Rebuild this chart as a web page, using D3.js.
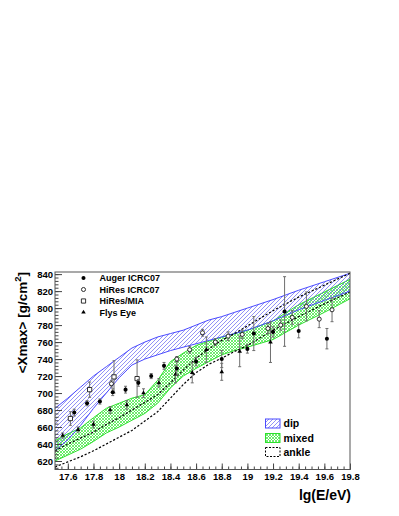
<!DOCTYPE html>
<html>
<head>
<meta charset="utf-8">
<script src="https://cdn.jsdelivr.net/npm/d3@7"></script>
<style>
  body { margin: 0; background: #fff; }
  text { font-family: "Liberation Sans", Arial, sans-serif; font-weight: bold; }
</style>
</head>
<body>
<div id="chart"></div>
<script>
// model bands, sampled in lg(E/eV)
const bandE = [17.5, 17.6, 17.7, 17.8, 17.9, 18.0, 18.1, 18.2, 18.3, 18.4, 18.5, 18.6, 18.7, 18.8, 18.9, 19.0, 19.2, 19.4, 19.6, 19.8];
const dipUpper = [682, 694, 707, 720, 731, 742, 753, 760, 766, 770, 774, 780, 786, 790, 795, 800, 810, 821, 831, 841];
const dipLower = [632, 645, 662, 682, 700, 718, 733, 740, 745, 750, 754, 758, 762, 766, 770, 774, 785, 798, 809, 820];
const mixedUpper = [644, 652, 659, 671, 682, 688, 694, 698, 715, 737, 747, 756, 761, 766, 770, 774, 785, 804, 819, 834];
const mixedLower = [620, 627, 634, 643, 653, 660, 668, 676, 688, 706, 720, 729, 737, 745, 750, 754, 763, 780, 795, 811];
const ankleUpper = [632, 640, 647, 654, 663, 671, 680, 689, 698, 712, 727, 741, 752, 762, 770, 779, 797, 813, 827, 841];
const ankleLower = [613, 619, 625, 632, 640, 648, 656, 667, 678, 694, 710, 724, 734, 741, 749, 756, 774, 790, 805, 819];

// measurements: energy, <Xmax>, error
const augerE = [17.65, 17.75, 17.85, 17.95, 18.05, 18.15, 18.25, 18.35, 18.45, 18.6, 18.8, 19.0, 19.05, 19.2, 19.29, 19.4, 19.62];
const augerX = [677, 688, 690, 701, 704, 712, 720, 732, 729, 737, 740, 752, 770, 772, 796, 773, 764];
const augerErr = [4, 3, 3, 4, 4, 4, 3, 4, 8, 5, 10, 5, 20, 6, 41, 8, 12];

const hiresE = [17.94, 18.45, 18.55, 18.65, 18.75, 18.85, 18.96, 19.16, 19.26, 19.35, 19.46, 19.56, 19.66];
const hiresX = [711, 740, 751, 771, 760, 767, 769, 776, 780, 789, 802, 787, 798];
const hiresErr = [4, 3, 4, 4, 4, 5, 5, 6, 6, 8, 17, 10, 14];

const miaE = [17.62, 17.77, 17.96, 18.14];
const miaX = [670, 704, 719, 717];
const miaErr = [8, 9, 19, 22];

const flysE = [17.56, 17.68, 17.8, 17.93, 18.06, 18.19, 18.31, 18.44, 18.57, 18.68, 18.8, 18.94, 19.18];
const flysX = [650, 657, 663, 680, 686, 700, 712, 722, 724, 751, 725, 749, 760];
const flysErr = [3, 3, 4, 4, 5, 5, 5, 10, 12, 15, 10, 18, 24];

const yTicks = [620, 640, 660, 680, 700, 720, 740, 760, 780, 800, 820, 840];
const xTicks = [17.6, 17.8, 18, 18.2, 18.4, 18.6, 18.8, 19, 19.2, 19.4, 19.6, 19.8];

const frame = { left: 55, top: 272, right: 350, bottom: 469.5 };
const width = frame.right - frame.left;
const height = frame.bottom - frame.top;

const svg = d3.select("#chart").append("svg")
    .attr("width", 399)
    .attr("height", 516);

const defs = svg.append("defs");

// hatch for dip band
const dipPat = defs.append("pattern")
    .attr("id", "dipHatch")
    .attr("patternUnits", "userSpaceOnUse")
    .attr("width", 4).attr("height", 4);
dipPat.append("path")
    .attr("d", "M-1,1 l2,-2 M0,4 l4,-4 M3,5 l2,-2")
    .attr("stroke", "#6464f0")
    .attr("stroke-width", 0.7);

// cross hatch for mixed band
const mixPat = defs.append("pattern")
    .attr("id", "mixHatch")
    .attr("patternUnits", "userSpaceOnUse")
    .attr("width", 3).attr("height", 3);
mixPat.append("path")
    .attr("d", "M-1,1 l2,-2 M0,3 l3,-3 M2,4 l2,-2 M-1,2 l2,2 M0,0 l3,3 M2,-1 l2,2")
    .attr("stroke", "#33e633")
    .attr("stroke-width", 0.7);

defs.append("clipPath").attr("id", "plotClip")
    .append("rect").attr("width", width).attr("height", height);

const g = svg.append("g")
    .attr("transform", `translate(${frame.left},${frame.top})`);

const x = d3.scaleLinear().domain([17.5, 19.8]).range([0, width]);
const y = d3.scaleLinear().domain([610, 842.5]).range([height, 0]);

const plot = g.append("g").attr("clip-path", "url(#plotClip)");

function band(lower, upper, fill, stroke) {
    const rows = bandE.map((e, i) => ({ e, lo: lower[i], hi: upper[i] }));
    plot.append("path")
        .datum(rows)
        .attr("fill", fill)
        .attr("d", d3.area().x(d => x(d.e)).y0(d => y(d.lo)).y1(d => y(d.hi)));
    [lower, upper].forEach(vals => {
        plot.append("path")
            .datum(vals)
            .attr("fill", "none")
            .attr("stroke", stroke)
            .attr("stroke-width", 1)
            .attr("d", d3.line().x((d, i) => x(bandE[i])).y(d => y(d)));
    });
}

band(mixedLower, mixedUpper, "url(#mixHatch)", "#2ee02e");
band(dipLower, dipUpper, "url(#dipHatch)", "#4a4aff");

// ankle model: dashed lines only
[ankleLower, ankleUpper].forEach(vals => {
    plot.append("path")
        .datum(vals)
        .attr("fill", "none")
        .attr("stroke", "#000")
        .attr("stroke-width", 1.2)
        .attr("stroke-dasharray", "2.2,1.8")
        .attr("d", d3.line().x((d, i) => x(bandE[i])).y(d => y(d)));
});

// error bars + markers
function series(es, xs, errs, marker) {
    const data = es.map((e, i) => ({ e, v: xs[i], err: errs[i] }));
    const grp = plot.append("g");
    grp.selectAll(".eb").data(data).enter().append("path")
        .attr("fill", "none")
        .attr("stroke", "#6e6e6e")
        .attr("stroke-width", 1)
        .attr("d", d => {
            const cx = x(d.e), t = y(d.v + d.err), b = y(d.v - d.err);
            return `M${cx},${t}V${b}M${cx - 1.5},${t}h3M${cx - 1.5},${b}h3`;
        });
    grp.selectAll(".mk").data(data).enter().append("path")
        .attr("transform", d => `translate(${x(d.e)},${y(d.v)})`)
        .call(marker);
}

function filledCircle(sel) {
    sel.attr("d", d3.symbol(d3.symbolCircle, 13)).attr("fill", "#000");
}
function openCircle(sel) {
    sel.attr("d", d3.symbol(d3.symbolCircle, 13)).attr("fill", "#fff")
        .attr("stroke", "#000").attr("stroke-width", 0.8);
}
function openSquare(sel) {
    sel.attr("d", d3.symbol(d3.symbolSquare, 18)).attr("fill", "#fff")
        .attr("stroke", "#000").attr("stroke-width", 0.8);
}
function triangle(sel) {
    sel.attr("d", d3.symbol(d3.symbolTriangle, 9)).attr("fill", "#000");
}

series(miaE, miaX, miaErr, openSquare);
series(flysE, flysX, flysErr, triangle);
series(augerE, augerX, augerErr, filledCircle);
series(hiresE, hiresX, hiresErr, openCircle);

// axes, ROOT style ticks inside the frame
const yMinor = d3.range(612, 842, 4);
g.append("g")
    .call(d3.axisLeft(y).tickValues(yMinor).tickSize(-3.5).tickFormat(""))
    .call(s => s.select(".domain").remove());
g.append("g")
    .call(d3.axisLeft(y).tickValues(yTicks).tickSize(-7).tickPadding(2).tickFormat(d3.format("d")))
    .call(s => s.select(".domain").remove())
    .call(s => s.selectAll("text").attr("font-size", "9.5px").attr("fill", "#000"));

const xMinor = d3.range(17.5, 19.81, 0.05);
g.append("g")
    .attr("transform", `translate(0,${height})`)
    .call(d3.axisBottom(x).tickValues(xMinor).tickSize(-3).tickFormat(""))
    .call(s => s.select(".domain").remove());
g.append("g")
    .attr("transform", `translate(0,${height})`)
    .call(d3.axisBottom(x).tickValues(xTicks).tickSize(-6).tickPadding(4).tickFormat(d3.format("")))
    .call(s => s.select(".domain").remove())
    .call(s => s.selectAll("text").attr("font-size", "9.5px").attr("fill", "#000"));

g.selectAll(".tick line").attr("stroke", "#444");

// frame
g.append("rect")
    .attr("width", width).attr("height", height)
    .attr("fill", "none").attr("stroke", "#555").attr("stroke-width", 1);

// axis titles
svg.append("text")
    .attr("x", frame.right + 1).attr("y", 499.5)
    .attr("text-anchor", "end")
    .attr("font-size", "14px")
    .text("lg(E/eV)");

const yTitle = svg.append("text")
    .attr("transform", `translate(27,${frame.top}) rotate(-90)`)
    .attr("text-anchor", "end")
    .attr("font-size", "13.5px");
yTitle.append("tspan").text("<Xmax> [g/cm");
yTitle.append("tspan").attr("font-size", "9.5px").attr("dy", "-6").text("2");
yTitle.append("tspan").attr("dy", "6").text("]");

// legend, measurements
const legendRows = [
    { label: "Auger ICRC07", marker: filledCircle, cy: 278 },
    { label: "HiRes ICRC07", marker: openCircle, cy: 289.5 },
    { label: "HiRes/MIA", marker: openSquare, cy: 301 },
    { label: "Flys Eye", marker: triangle, cy: 312.3 }
];
legendRows.forEach(r => {
    svg.append("path")
        .attr("transform", `translate(83.5,${r.cy})`)
        .call(r.marker);
    svg.append("text")
        .attr("x", 99.5).attr("y", r.cy + 3.3)
        .attr("font-size", "9px")
        .text(r.label);
});

// legend, models
const modelRows = [
    { label: "dip", fill: "url(#dipHatch)", stroke: "#4a4aff", dash: null, cy: 423.5 },
    { label: "mixed", fill: "url(#mixHatch)", stroke: "#2ee02e", dash: null, cy: 438 },
    { label: "ankle", fill: "none", stroke: "#000", dash: "2,1.5", cy: 452 }
];
modelRows.forEach(r => {
    svg.append("rect")
        .attr("x", 265.5).attr("y", r.cy - 4.5)
        .attr("width", 14.5).attr("height", 9)
        .attr("fill", r.fill)
        .attr("stroke", r.stroke)
        .attr("stroke-width", 1)
        .attr("stroke-dasharray", r.dash);
    svg.append("text")
        .attr("x", 283.5).attr("y", r.cy + 3.8)
        .attr("font-size", "10.5px")
        .text(r.label);
});
</script>
</body>
</html>
